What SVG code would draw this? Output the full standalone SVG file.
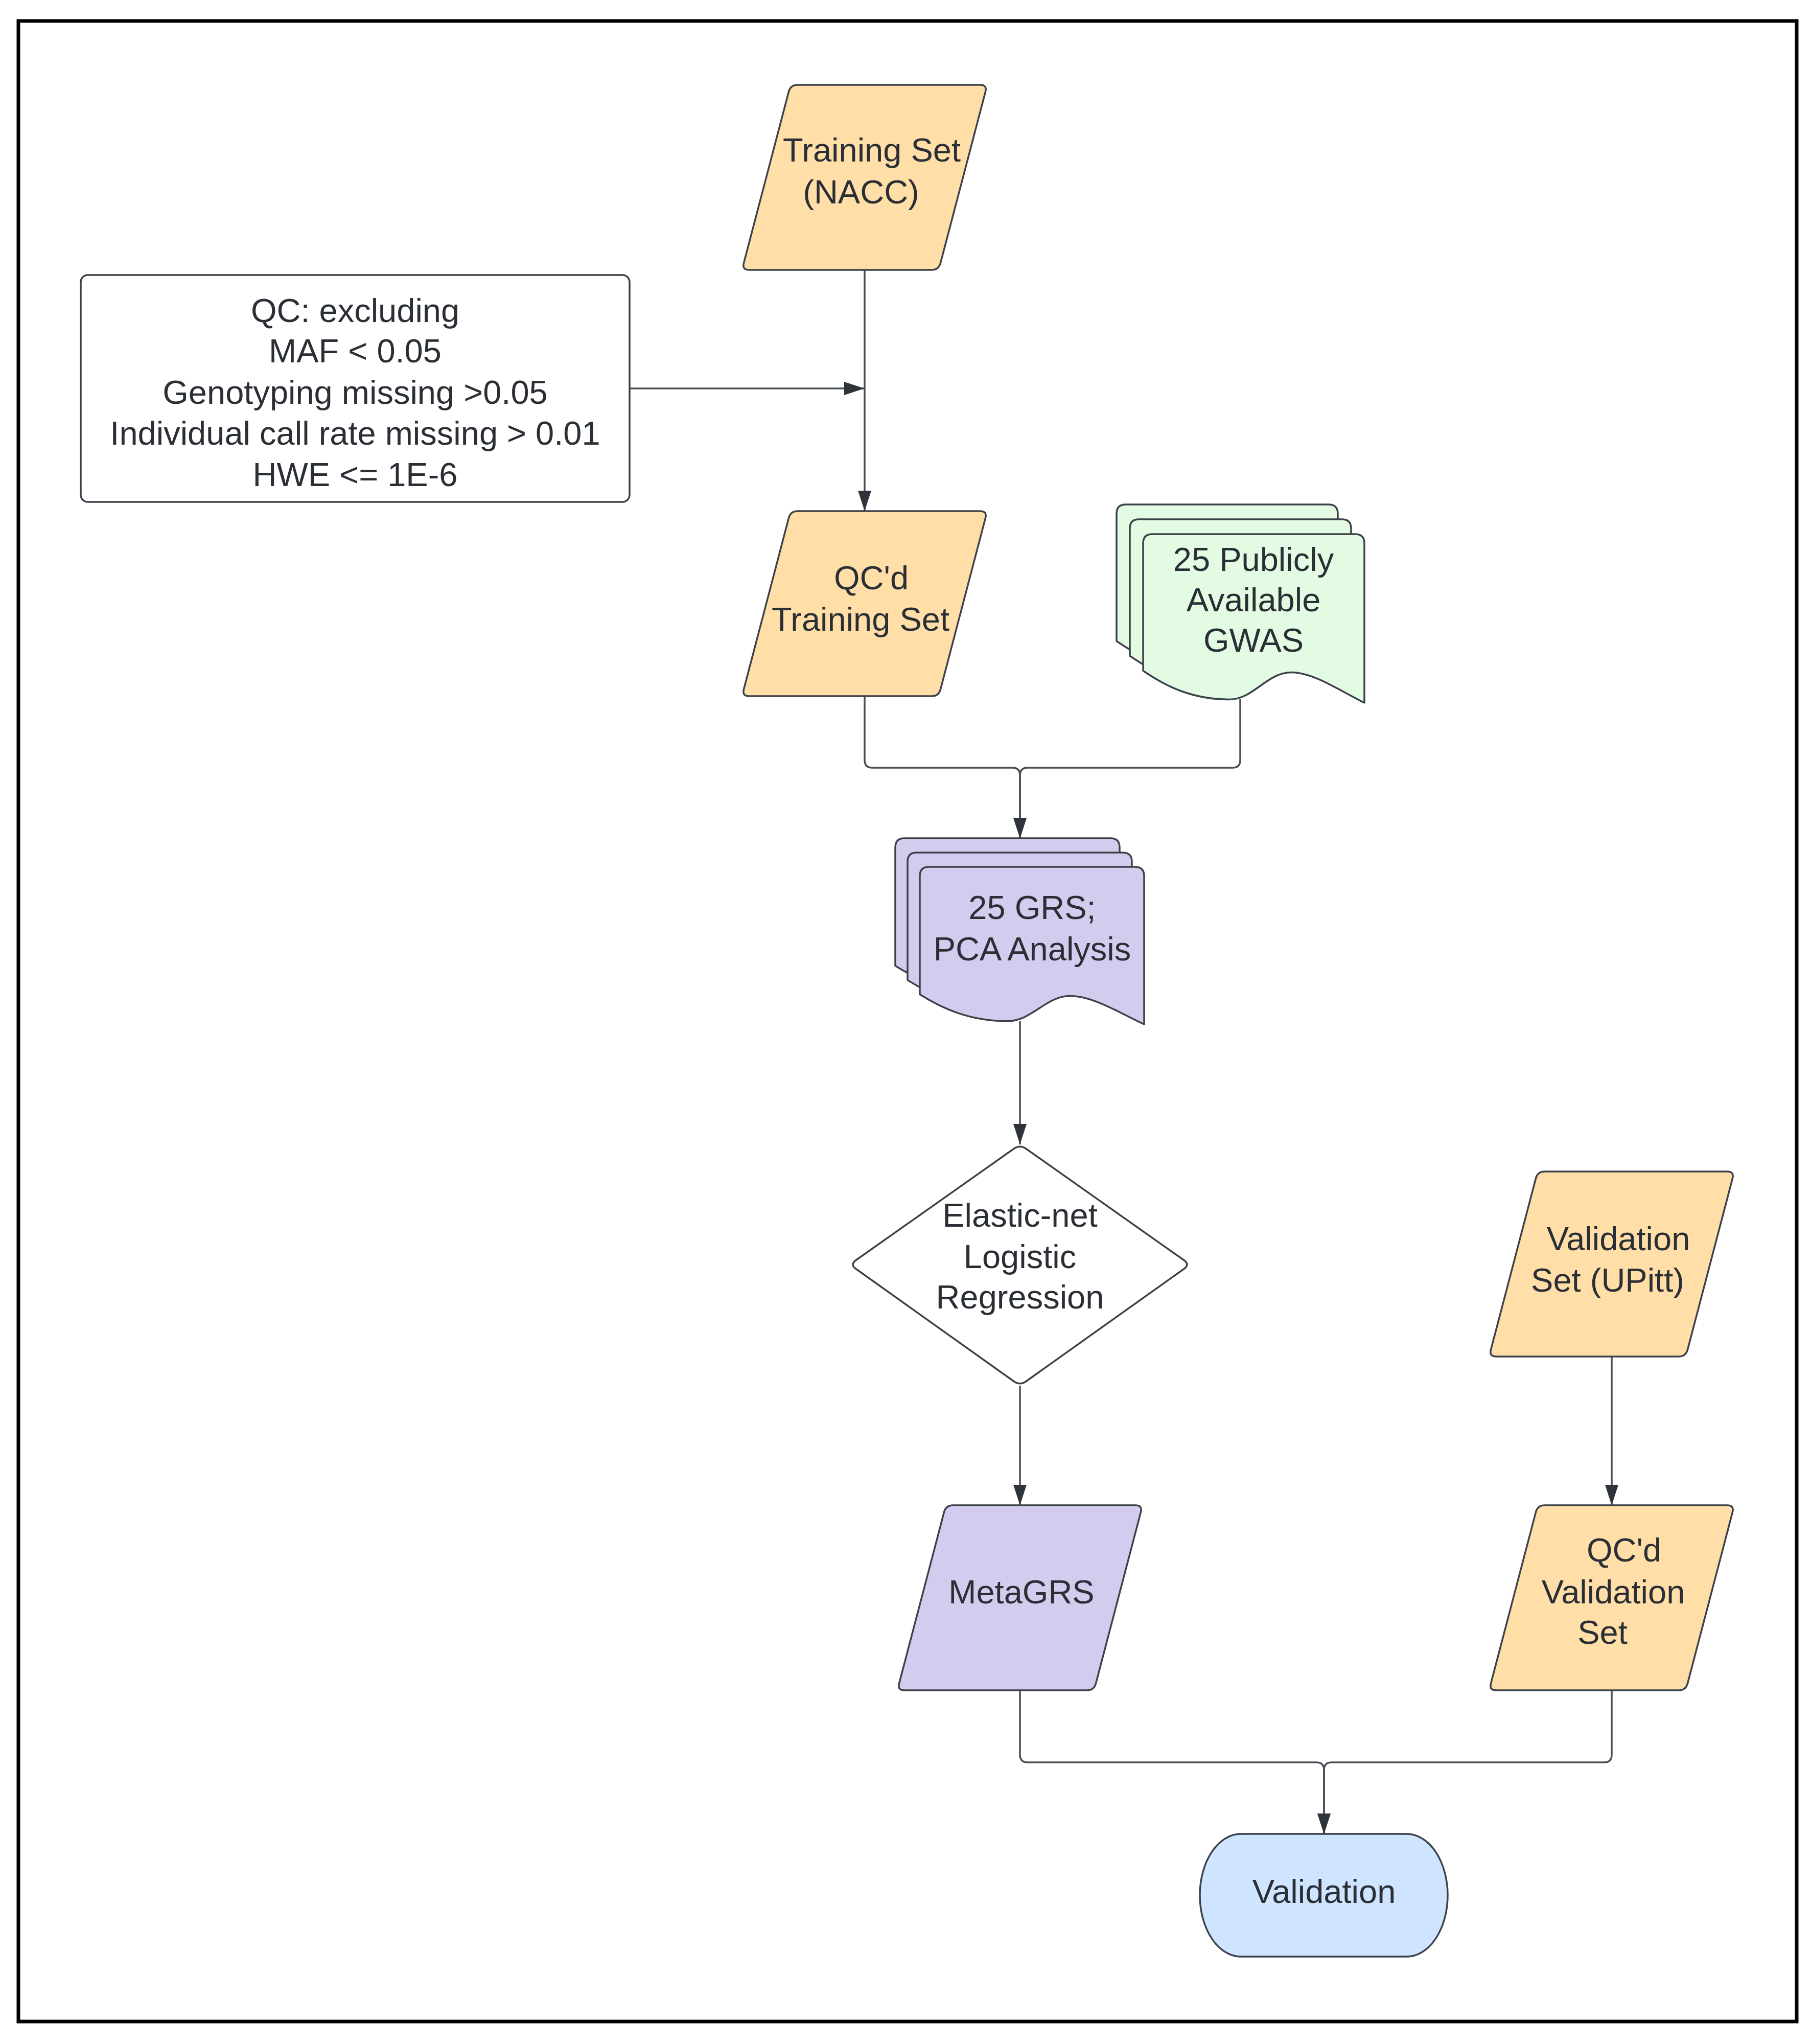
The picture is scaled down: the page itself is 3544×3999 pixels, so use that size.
<svg xmlns="http://www.w3.org/2000/svg" width="3544" height="3999" viewBox="0 0 3544 3999">
<style>
text{font-family:"Liberation Sans",Arial,sans-serif;font-size:65px;fill:#2a2e35;text-anchor:middle}
.sh{stroke:#3c4249;stroke-width:3.5;stroke-linejoin:round}
.or{fill:#FFDEA8}.pu{fill:#D4CCEE}.gr{fill:#E3FAE3}.bl{fill:#CFE4FF}.wh{fill:#FFFFFF}
.cn{fill:none;stroke:#4a4f56;stroke-width:3.5}
</style>
<defs>
<marker id="ah" markerUnits="userSpaceOnUse" markerWidth="42" markerHeight="28" refX="40" refY="13" orient="auto">
<path d="M0,0 L40,13 L0,26 Z" fill="#2f343b"/>
</marker>
<path id="para" d="M14,0 L371,0 Q385,0 381.45,13.54 L293.55,348.46 Q290,362 276,362 L-81,362 Q-95,362 -91.45,348.46 L-3.55,13.54 Q0,0 14,0 Z"/>
<path id="docG" d="M0,18 Q0,0 18,0 H415 Q433,0 433,18 V330 C381,304 333,270.6 290,270.6 C242,270.6 216,323.4 169,323.4 C95,323.4 43,297 0,267.3 Z"/>
<path id="docP" d="M0,18 Q0,0 18,0 H421 Q439,0 439,18 V308 C386,283 338,252.6 294,252.6 C246,252.6 220,301.8 171,301.8 C97,301.8 44,277 0,249.5 Z"/>
</defs>
<rect x="36" y="41" width="3480" height="3914" fill="#FFFFFF" stroke="#000000" stroke-width="7"/>
<g id="connectors">
<path class="cn" d="M1692,528 V1000" marker-end="url(#ah)"/>
<path class="cn" d="M1232,760 H1692" marker-end="url(#ah)"/>
<path class="cn" d="M1692,1362 V1487 Q1692,1502 1707,1502 H1981 Q1996,1502 1996,1517 V1640" marker-end="url(#ah)"/>
<path class="cn" d="M2427,1368 V1487 Q2427,1502 2412,1502 H2011 Q1996,1502 1996,1517 V1640" marker-end="url(#ah)"/>
<path class="cn" d="M1996,1998 V2239" marker-end="url(#ah)"/>
<path class="cn" d="M1996,2711 V2945" marker-end="url(#ah)"/>
<path class="cn" d="M3154,2654 V2945" marker-end="url(#ah)"/>
<path class="cn" d="M1996,3306 V3433 Q1996,3448 2011,3448 H2576 Q2591,3448 2591,3463 V3588" marker-end="url(#ah)"/>
<path class="cn" d="M3154,3306 V3433 Q3154,3448 3139,3448 H2606 Q2591,3448 2591,3463 V3588" marker-end="url(#ah)"/>
</g>
<g id="training-set">
<use href="#para" x="1547" y="166" class="sh or"/>
<text x="1706" y="316">Training Set</text>
<text x="1685" y="398">(NACC)</text>
</g>
<g id="qc-box">
<rect x="158" y="538" width="1074" height="444" rx="14" class="sh wh"/>
<text x="695" y="630">QC: excluding</text>
<text x="695" y="709">MAF &lt; 0.05</text>
<text x="695" y="790">Genotyping missing &gt;0.05</text>
<text x="695" y="870">Individual call rate missing &gt; 0.01</text>
<text x="695" y="951">HWE &lt;= 1E-6</text>
</g>
<g id="qcd-training-set">
<use href="#para" x="1547" y="1000" class="sh or"/>
<text x="1705" y="1153">QC'd</text>
<text x="1684" y="1234">Training Set</text>
</g>
<g id="gwas">
<use href="#docG" x="2185" y="987" class="sh gr"/>
<use href="#docG" x="2211" y="1016" class="sh gr"/>
<use href="#docG" x="2237" y="1045" class="sh gr"/>
<text x="2453" y="1117">25 Publicly</text>
<text x="2453" y="1196">Available</text>
<text x="2453" y="1275">GWAS</text>
</g>
<g id="grs-pca">
<use href="#docP" x="1752" y="1640" class="sh pu"/>
<use href="#docP" x="1776" y="1668" class="sh pu"/>
<use href="#docP" x="1800" y="1696" class="sh pu"/>
<text x="2020" y="1798">25 GRS;</text>
<text x="2020" y="1879">PCA Analysis</text>
</g>
<g id="elastic-net">
<path class="sh wh" d="M1984,2247.5 Q1996,2239 2008,2247.5 L2317,2465.5 Q2329,2474 2317,2482.5 L2008,2702.5 Q1996,2711 1984,2702.5 L1675,2482.5 Q1663,2474 1675,2465.5 Z"/>
<text x="1996" y="2400">Elastic-net</text>
<text x="1996" y="2481">Logistic</text>
<text x="1996" y="2560">Regression</text>
</g>
<g id="metagrs">
<use href="#para" x="1851" y="2945" class="sh pu"/>
<text x="1999" y="3137">MetaGRS</text>
</g>
<g id="validation-set">
<use href="#para" x="3009" y="2292" class="sh or"/>
<text x="3167" y="2446">Validation</text>
<text x="3146" y="2527">Set (UPitt)</text>
</g>
<g id="qcd-validation-set">
<use href="#para" x="3009" y="2945" class="sh or"/>
<text x="3178" y="3055">QC'd</text>
<text x="3157" y="3137">Validation</text>
<text x="3136" y="3216">Set</text>
</g>
<g id="validation">
<rect x="2348" y="3588" width="485" height="240" rx="80" ry="120" class="sh bl"/>
<text x="2591" y="3723">Validation</text>
</g>
</svg>
